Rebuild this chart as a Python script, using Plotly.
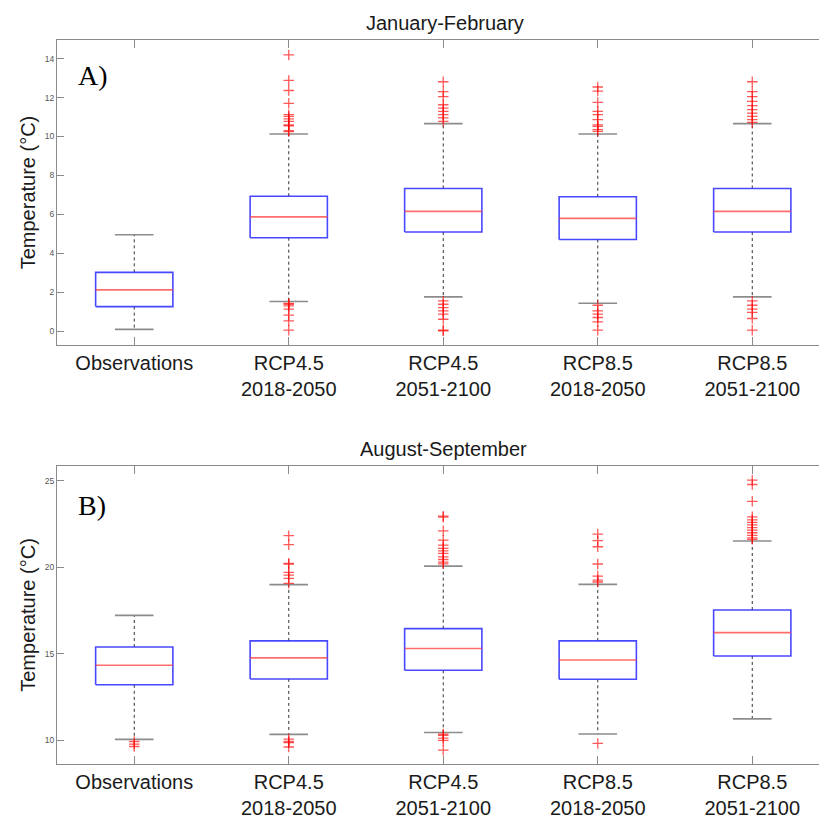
import plotly.graph_objects as go

# ---------------- data ----------------
categories = ["Observations", "RCP4.5<br>2018-2050", "RCP4.5<br>2051-2100",
              "RCP8.5<br>2018-2050", "RCP8.5<br>2051-2100"]

# Panel A: January-February
jf_q1 = [1.26, 4.80, 5.09, 4.71, 5.09]
jf_med = [2.12, 5.87, 6.15, 5.79, 6.15]
jf_q3 = [3.02, 6.93, 7.33, 6.90, 7.33]
jf_lo = [0.09, 1.52, 1.76, 1.43, 1.76]
jf_hi = [4.95, 10.13, 10.66, 10.13, 10.66]
jf_out = [
    [],
    [14.19, 12.88, 12.36, 11.70, 11.12, 11.03, 10.90, 10.77, 10.60, 10.55, 10.30, 10.25,
     1.43, 1.38, 1.30, 1.13, 0.82, 0.53, 0.05],
    [12.81, 12.30, 12.05, 11.63, 11.46, 11.29, 11.12, 10.95, 10.77,
     1.55, 1.38, 1.21, 1.04, 0.87, 0.61, 0.05, 0.02],
    [12.54, 12.33, 11.75, 11.29, 11.12, 10.86, 10.60, 10.52, 10.35, 10.26,
     1.33, 1.04, 0.87, 0.70, 0.48, 0.05],
    [12.81, 12.30, 12.05, 11.80, 11.58, 11.38, 11.20, 11.03, 10.86, 10.72,
     1.55, 1.33, 1.13, 0.96, 0.65, 0.05],
]

# Panel B: August-September
as_q1 = [13.20, 13.54, 14.04, 13.52, 14.87]
as_med = [14.33, 14.76, 15.30, 14.64, 16.22]
as_q3 = [15.39, 15.74, 16.45, 15.74, 17.53]
as_lo = [10.04, 10.33, 10.44, 10.35, 11.23]
as_hi = [17.22, 19.00, 20.07, 19.01, 21.52]
as_out = [
    [9.92, 9.77, 9.63],
    [21.83, 21.31, 20.23, 20.18, 19.71, 19.55, 19.36, 19.07, 10.06, 9.92, 9.85, 9.60],
    [22.96, 22.90, 22.11, 21.57, 21.28, 21.10, 20.95, 20.80, 20.60, 20.45, 20.30, 20.20,
     10.35, 10.28, 10.12, 9.98, 9.42],
    [21.92, 21.54, 21.19, 20.19, 19.49, 19.26, 19.15, 9.81],
    [25.04, 24.79, 23.82, 22.92, 22.75, 22.60, 22.45, 22.30, 22.15, 22.00, 21.85, 21.70, 21.62],
]

jf_yticks = [0, 2, 4, 6, 8, 10, 12, 14]
as_yticks = [10, 15, 20, 25]

# ---------------- style ----------------
BOX_HW = 0.25
CAP_HW = 0.125
AX_COLOR = "#8a8a8a"
SANS = "Liberation Sans, Arial, Helvetica, sans-serif"
SERIF = "Liberation Serif, Times New Roman, serif"

fig = go.Figure()


def add_panel(q1, med, q3, lo, hi, outs, xa, ya):
    pos = list(range(1, len(q1) + 1))
    bx, by, mx, my, wx, wy, cx, cy, ox, oy = [], [], [], [], [], [], [], [], [], []
    for p, a, m, b, l, h, o in zip(pos, q1, med, q3, lo, hi, outs):
        bx += [p - BOX_HW, p + BOX_HW, p + BOX_HW, p - BOX_HW, p - BOX_HW, None]
        by += [a, a, b, b, a, None]
        mx += [p - BOX_HW, p + BOX_HW, None]
        my += [m, m, None]
        wx += [p, p, None, p, p, None]
        wy += [b, h, None, a, l, None]
        cx += [p - CAP_HW, p + CAP_HW, None, p - CAP_HW, p + CAP_HW, None]
        cy += [h, h, None, l, l, None]
        ox += [p] * len(o)
        oy += o
    common = dict(xaxis=xa, yaxis=ya, showlegend=False, hoverinfo="skip")
    fig.add_trace(go.Scatter(x=wx, y=wy, mode="lines",
                             line=dict(color="#333333", width=1, dash="dot"), **common))
    fig.add_trace(go.Scatter(x=cx, y=cy, mode="lines",
                             line=dict(color="#8c8c8c", width=1.6), **common))
    fig.add_trace(go.Scatter(x=bx, y=by, mode="lines",
                             line=dict(color="rgba(40,40,255,0.85)", width=1.6), **common))
    fig.add_trace(go.Scatter(x=mx, y=my, mode="lines",
                             line=dict(color="rgba(255,60,60,0.75)", width=1.6), **common))
    fig.add_trace(go.Scatter(x=ox, y=oy, mode="markers",
                             marker=dict(symbol="cross-thin", size=7.5,
                                         line=dict(color="rgba(255,0,0,0.65)", width=1.3)),
                             **common))


add_panel(jf_q1, jf_med, jf_q3, jf_lo, jf_hi, jf_out, "x", "y")
add_panel(as_q1, as_med, as_q3, as_lo, as_hi, as_out, "x2", "y2")

W = H = 819
x_dom = [57 / W, 1.0]
top_dom = [1 - 346 / H, 1 - 40 / H]
bot_dom = [1 - 766 / H, 1 - 467 / H]
x_range = [0.5, 5.432]

xcommon = dict(range=x_range, tickvals=list(range(1, 6)), ticktext=categories,
               showgrid=False, zeroline=False, showline=True, linecolor=AX_COLOR,
               linewidth=1, mirror="ticks", ticks="inside", ticklen=8, tickwidth=1,
               tickcolor=AX_COLOR, tickfont=dict(family=SANS, size=20, color="#1a1a1a"),
               domain=x_dom)
ycommon = dict(showgrid=False, zeroline=False, showline=True, linecolor=AX_COLOR,
               linewidth=1, mirror=False, ticks="inside", ticklen=7, tickwidth=1,
               tickcolor=AX_COLOR, tickfont=dict(family=SANS, size=8.5, color="#555555"),
               title=dict(text="Temperature (°C)", standoff=3,
                          font=dict(family=SANS, size=20, color="#1a1a1a")))

fig.update_layout(
    width=W, height=H,
    margin=dict(l=0, r=0, t=0, b=0),
    paper_bgcolor="white", plot_bgcolor="white",
    xaxis=dict(anchor="y", **xcommon),
    yaxis=dict(anchor="x", domain=top_dom, range=[-0.72, 14.96], tickvals=jf_yticks, **ycommon),
    xaxis2=dict(anchor="y2", **xcommon),
    yaxis2=dict(anchor="x2", domain=bot_dom, range=[8.61, 25.87], tickvals=as_yticks, **ycommon),
    annotations=[
        dict(text="January-February", x=445 / W, y=1 - 23 / H, xref="paper", yref="paper",
             xanchor="center", yanchor="middle", showarrow=False,
             font=dict(family=SANS, size=20, color="#1a1a1a")),
        dict(text="August-September", x=443 / W, y=1 - 450 / H, xref="paper", yref="paper",
             xanchor="center", yanchor="middle", showarrow=False,
             font=dict(family=SANS, size=20, color="#1a1a1a")),
        dict(text="A)", x=76 / W, y=1 - 76 / H, xref="paper", yref="paper",
             xanchor="left", yanchor="middle", showarrow=False,
             font=dict(family=SERIF, size=28, color="black")),
        dict(text="B)", x=76 / W, y=1 - 507 / H, xref="paper", yref="paper",
             xanchor="left", yanchor="middle", showarrow=False,
             font=dict(family=SERIF, size=28, color="black")),
    ],
)

fig.write_html("out.html")
